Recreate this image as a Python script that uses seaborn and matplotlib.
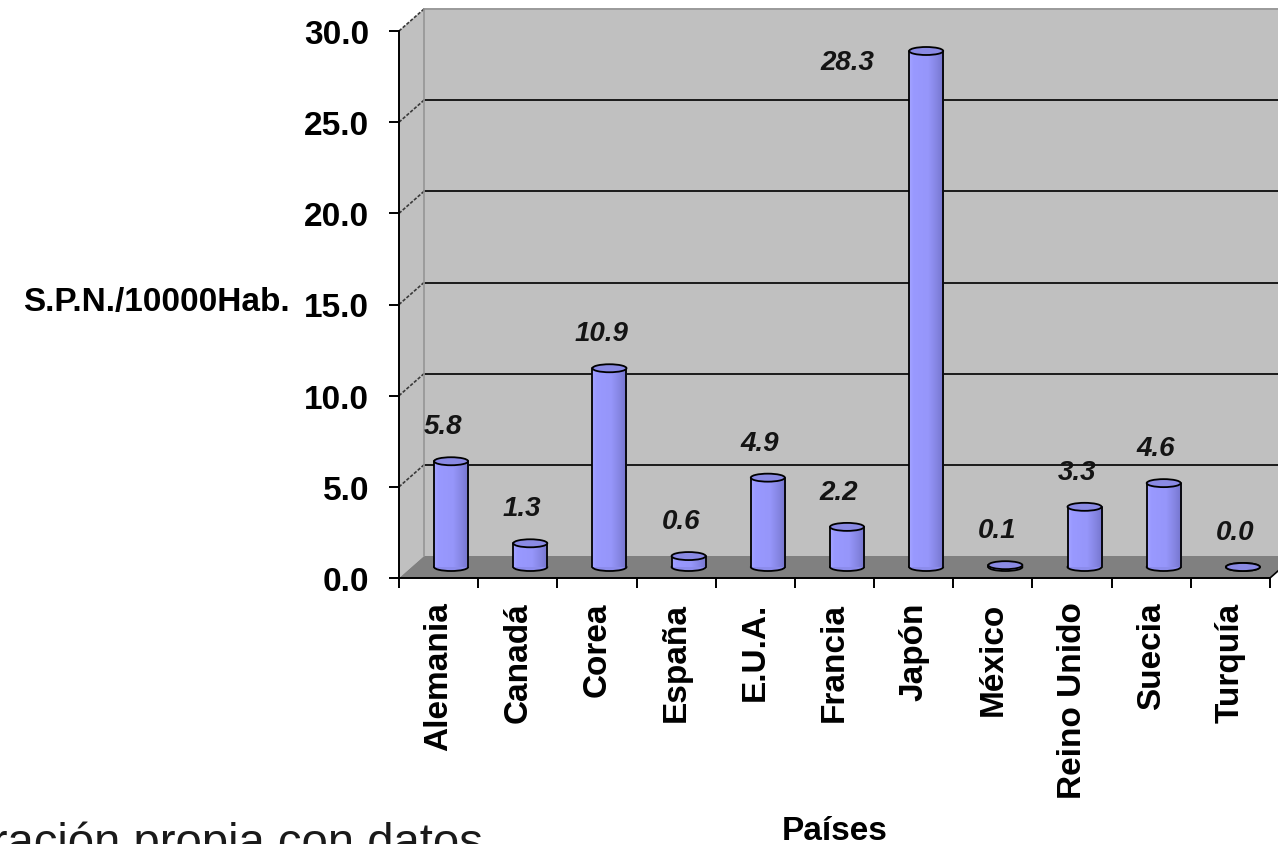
import numpy as np
import matplotlib
matplotlib.use("Agg")
import matplotlib.pyplot as plt
from matplotlib.patches import Polygon, Ellipse
from matplotlib.transforms import ScaledTranslation
from matplotlib.colors import LinearSegmentedColormap
import seaborn as sns
import pandas as pd

# Datos: sistemas de pensiones / robots por cada 10000 habitantes
paises = ["Alemania", "Canadá", "Corea", "España", "E.U.A.", "Francia",
          "Japón", "México", "Reino Unido", "Suecia", "Turquía"]
spn_por_10000 = [5.8, 1.3, 10.9, 0.6, 4.9, 2.2, 28.3, 0.1, 3.3, 4.6, 0.0]
y_ticks = [0, 5, 10, 15, 20, 25, 30]
y_label = "S.P.N./10000Hab."
x_label = "Países"
nota = "Elaboración propia con datos"

sns.set_theme(style="white")
plt.rcParams["font.family"] = ["Liberation Sans", "DejaVu Sans"]

W, H, DPI = 1278, 845, 100
fig = plt.figure(figsize=(W / DPI, H / DPI), dpi=DPI)
fig.patch.set_facecolor("white")
ax = fig.add_axes([399 / W, 1 - 579 / H, 871 / W, 547 / H])
ax.set_facecolor("none")

df = pd.DataFrame({"pais": paises, "valor": spn_por_10000})
sns.barplot(data=df, x="pais", y="valor", ax=ax, color="#9999FF",
            saturation=1, width=0.43, edgecolor="none", linewidth=0,
            errorbar=None, zorder=3)

n = len(paises)
ymax = y_ticks[-1]
ax.set_xlim(-0.5, n - 0.5)
ax.set_ylim(0, ymax)

# pseudo-3D depth of the plot box (pixels converted to data units)
px_x = 871 / n
px_y = 547 / ymax
ddx = 25 / px_x
ddy = 22 / px_y
x_left, x_right = -0.5, n - 0.5

wall_kw = dict(clip_on=False)
# back wall
ax.add_patch(Polygon([(x_left + ddx, ddy), (x_right + ddx + 1, ddy),
                      (x_right + ddx + 1, ymax + ddy), (x_left + ddx, ymax + ddy)],
                     closed=True, fc="#C0C0C0", ec="none", zorder=0, **wall_kw))
# side wall
ax.add_patch(Polygon([(x_left, 0), (x_left, ymax), (x_left + ddx, ymax + ddy),
                      (x_left + ddx, ddy)],
                     closed=True, fc="#C0C0C0", ec="none", zorder=0, **wall_kw))
# floor
ax.add_patch(Polygon([(x_left, 0), (x_right, 0), (x_right + ddx, ddy),
                      (x_left + ddx, ddy)],
                     closed=True, fc="#808080", ec="none", zorder=0.5, **wall_kw))
ax.plot([x_right, x_right + ddx], [0, ddy], color="black", lw=1.2,
        zorder=1, clip_on=False)

# gridlines on back wall and side wall
for t in y_ticks[1:]:
    col = "#1a1a1a" if t < ymax else "#9a9a9a"
    ax.plot([x_left + ddx, x_right + ddx + 1], [t + ddy, t + ddy],
            color=col, lw=1.4, zorder=1, clip_on=False)
    ax.plot([x_left, x_left + ddx], [t, t + ddy], color="#3a3a3a",
            lw=1.2, ls=(0, (2, 1)), zorder=1, clip_on=False)
ax.plot([x_left + ddx, x_left + ddx], [ddy, ymax + ddy], color="#959595",
        lw=1.2, zorder=1, clip_on=False)

# cylinders
bar_trans = ax.transData + ScaledTranslation(12.5 / DPI, 11 / DPI,
                                             fig.dpi_scale_trans)
cyl_cmap = LinearSegmentedColormap.from_list(
    "cyl", [(0.0, "#A4A4FF"), (0.12, "#9999FF"), (0.55, "#9696FA"),
            (0.8, "#8585E2"), (1.0, "#7474CC")])
grad = np.linspace(0, 1, 64).reshape(1, -1)
ell_h = 8 / px_y

bars = ax.containers[0]
for rect, v in zip(bars, spn_por_10000):
    rect.set_transform(bar_trans)
    x0, w, h = rect.get_x(), rect.get_width(), rect.get_height()
    xc = x0 + w / 2
    ax.add_patch(Ellipse((xc, 0), w, ell_h, fc="#8C8CEC", ec="black",
                         lw=1.3, transform=bar_trans, zorder=2.9))
    if h > 0:
        ax.imshow(grad, cmap=cyl_cmap, extent=(x0, x0 + w, 0, h),
                  aspect="auto", transform=bar_trans, zorder=3.1,
                  interpolation="bilinear")
        for xe in (x0, x0 + w):
            ax.plot([xe, xe], [0, h], color="black", lw=1.3,
                    transform=bar_trans, zorder=3.2)
    ax.add_patch(Ellipse((xc, h), w, ell_h, fc="#8A8AE4", ec="black",
                         lw=1.3, transform=bar_trans, zorder=3.3))

# value labels
vmax = max(spn_por_10000)
for rect, v in zip(bars, spn_por_10000):
    xc = rect.get_x() + rect.get_width() / 2
    offset = (-79, -11) if v == vmax else (-8, 35)
    ax.annotate(f"{v:.1f}", xy=(xc, v), xycoords=bar_trans,
                xytext=offset, textcoords="offset pixels",
                ha="center", va="center", fontsize=20, fontweight="bold",
                fontstyle="italic", color="#141414", zorder=5,
                annotation_clip=False)

ax.set_xlim(-0.5, n - 0.5)
ax.set_ylim(0, ymax)

# axes, ticks and labels
for side in ("top", "right"):
    ax.spines[side].set_visible(False)
for side in ("left", "bottom"):
    ax.spines[side].set_color("black")
    ax.spines[side].set_linewidth(1.4)
    ax.spines[side].set_zorder(4)

ax.set_yticks(y_ticks)
ax.set_yticklabels([f"{t:.1f}" for t in y_ticks], fontsize=24,
                   fontweight="bold", color="black")
ax.tick_params(axis="y", left=True, direction="out", length=7.2, width=1.4,
               pad=14.4, color="black")

ax.set_xticks(range(n))
ax.set_xticklabels(paises, rotation=90, fontsize=24, fontweight="bold",
                   color="black")
ax.set_xticks(np.arange(-0.5, n), minor=True)
ax.tick_params(axis="x", which="major", bottom=True, length=0, pad=17)
ax.tick_params(axis="x", which="minor", bottom=True, direction="out",
               length=7.2, width=1.4, color="black")

ax.set_ylabel(y_label, rotation=0, ha="right", va="center", fontsize=24,
              fontweight="bold", color="black")
ax.yaxis.set_label_coords(-109 / 871, (579 - 303) / 547)
ax.set_xlabel(x_label, fontsize=24, fontweight="bold", va="baseline",
              color="black")
ax.xaxis.set_label_coords(0.5, (579 - 840) / 547)

fig.text(483 / W, 1 - 856 / H, nota, ha="right", va="baseline",
         fontsize=34, color="#1a1a1a")

fig.savefig("out.png", dpi=DPI)
